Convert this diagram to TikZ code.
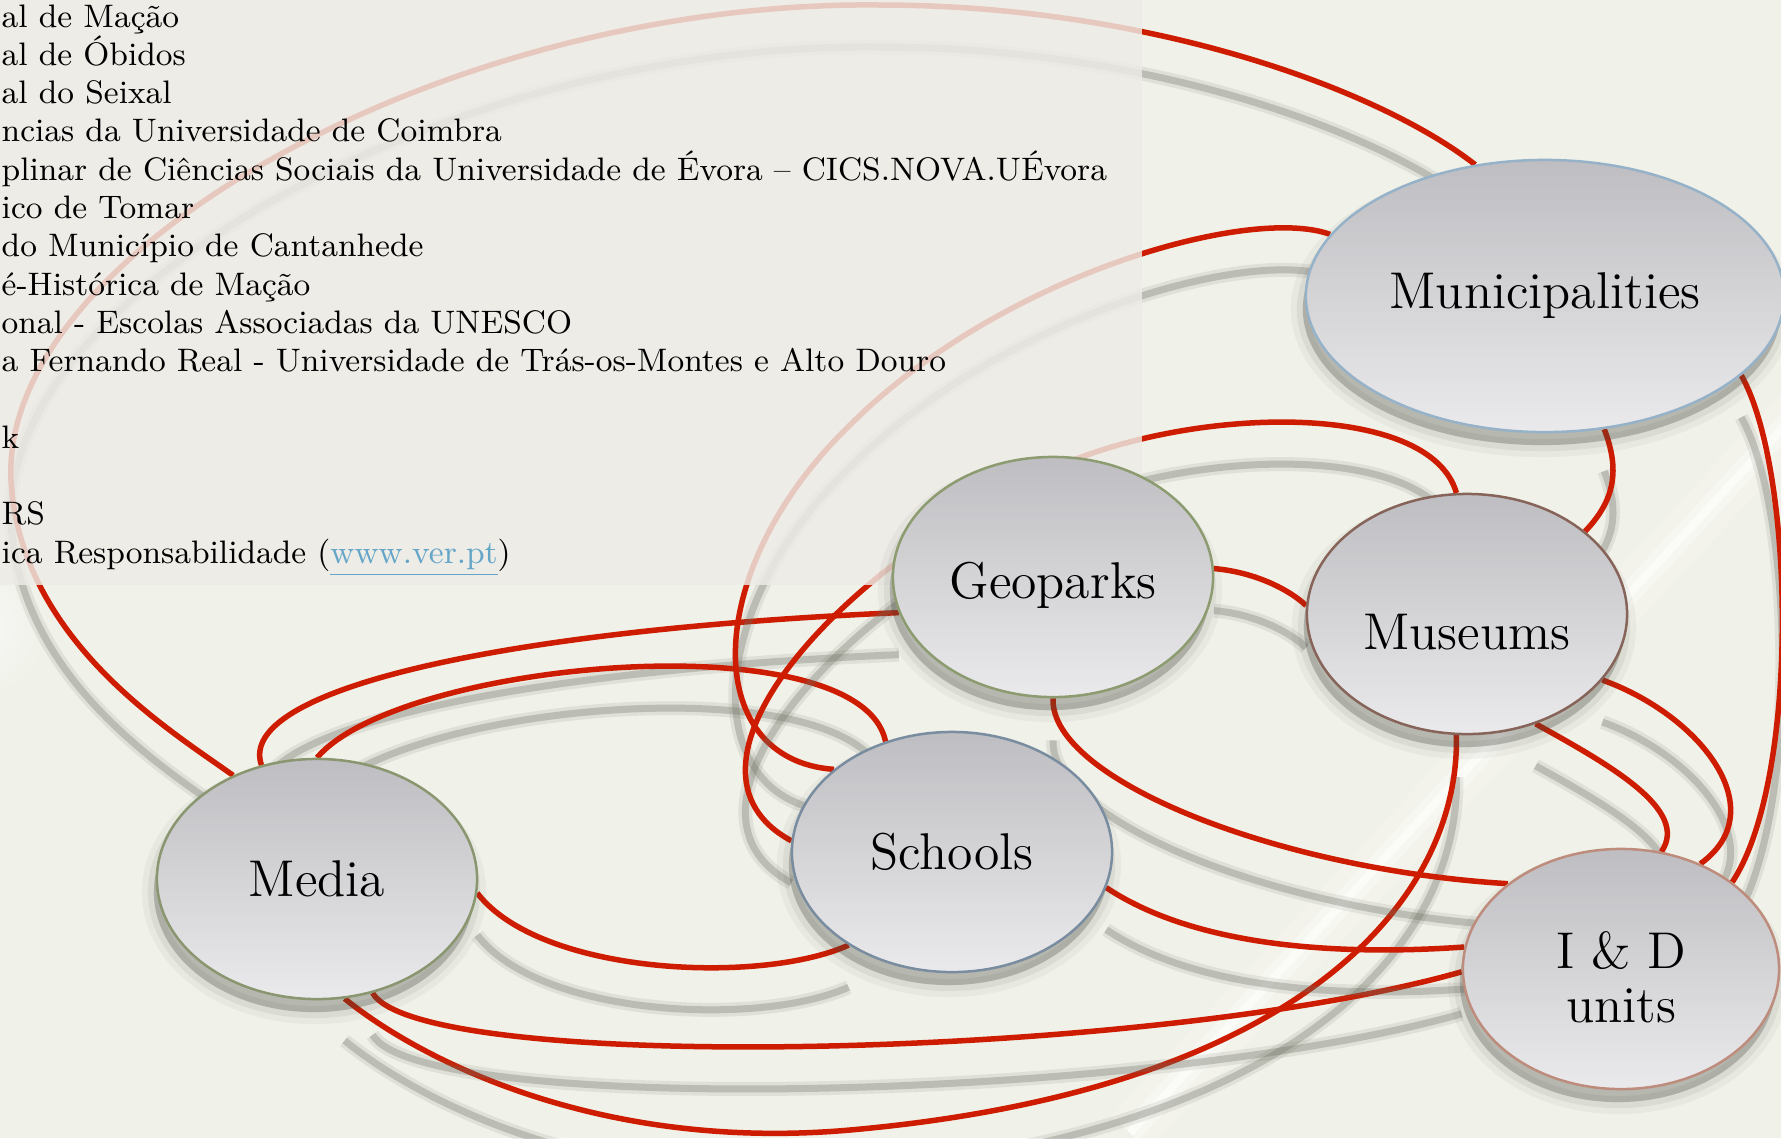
\documentclass[tikz,border=0pt]{standalone}
\usepackage{fontspec}
\usetikzlibrary{shapes.geometric}

% Colours of the slide
\definecolor{slidebg}{RGB}{240,241,232}
\definecolor{panelbg}{RGB}{237,235,230}
\definecolor{linkred}{RGB}{206,28,0}
\definecolor{linkshadow}{RGB}{105,108,96}
\definecolor{linkblue}{RGB}{100,165,200}
\definecolor{bubbletop}{RGB}{190,190,194}
\definecolor{bubblebot}{RGB}{234,234,236}
\definecolor{munib}{RGB}{150,178,200}
\definecolor{geob}{RGB}{140,155,112}
\definecolor{musb}{RGB}{135,100,90}
\definecolor{schb}{RGB}{122,140,160}
\definecolor{mediab}{RGB}{138,150,112}
\definecolor{idub}{RGB}{190,140,125}
\definecolor{bubbleshadow}{RGB}{70,72,64}

\pgfdeclarelayer{back}
\pgfdeclarelayer{links}
\pgfdeclarelayer{panel}
\pgfsetlayers{back,links,panel,main}

\tikzset{
  link/.style={draw=linkred, line width=0.055cm,
    preaction={draw=linkshadow, line width=0.14cm, opacity=0.12,
      transform canvas={yshift=-0.42cm}},
    preaction={draw=linkshadow, line width=0.07cm, opacity=0.3,
      transform canvas={yshift=-0.42cm}}},
  bubble/.style={ellipse, draw=#1, line width=0.025cm,
    top color=bubbletop, bottom color=bubblebot,
    minimum width=3.2cm, minimum height=2.4cm, inner sep=0pt,
    align=center, font=\fontsize{14.7}{15.4}\selectfont,
    preaction={fill=bubbleshadow, draw=bubbleshadow, line width=0.24cm,
      opacity=0.05, transform canvas={shift={(-0.03cm,-0.13cm)}}},
    preaction={fill=bubbleshadow, draw=bubbleshadow, line width=0.12cm,
      opacity=0.08, transform canvas={shift={(-0.03cm,-0.13cm)}}},
    preaction={fill=bubbleshadow, opacity=0.2,
      transform canvas={shift={(-0.03cm,-0.13cm)}}}},
  listtext/.style={inner sep=0pt, anchor=base west,
    font=\fontsize{9.25}{11}\selectfont}
}

\begin{document}
\begin{tikzpicture}[x=0.01cm, y=-0.01cm]

    % Page of the slide, in pixels of the reference
    \useasboundingbox (0,0) rectangle (1781,1138);

    % Background with its light streaks
    \begin{pgfonlayer}{back}
      \fill[slidebg] (0,0) rectangle (1781,1138);
      \foreach \r in {0.2,0.3,...,0.8}
        \fill[white, opacity=0.12] (-25,625) circle (\r cm);
      \draw[white, line width=0.5cm, opacity=0.2] (1830,377) -- (1130,1133);
      \draw[white, line width=0.22cm, opacity=0.35] (1830,377) -- (1130,1133);
      \draw[white, line width=0.08cm, opacity=0.5] (1830,377) -- (1130,1133);
    \end{pgfonlayer}

    % The six partners
    \node[bubble=munib, minimum width=4.78cm, minimum height=2.72cm]
      (muni) at (1545,296) {Municipalities};
    \node[bubble=geob] (geo) at (1053,577) {\rule{0pt}{15pt}Geoparks};
    \node[bubble=musb] (mus) at (1467,614) {\rule{0pt}{20.4pt}Museums};
    \node[bubble=schb] (sch) at (952,852) {Schools};
    \node[bubble=mediab] (media) at (317,879) {Media};
    \node[bubble=idub, minimum width=3.16cm] (idu) at (1621,969)
      {\rule{0pt}{15.3pt}I \& D\\units};

    % Red links between the partners
    \begin{pgfonlayer}{links}
      % Media -> Municipalities, round the top left
      \draw[link] (media.129) .. controls (170,730) and (20,640) .. (11,480)
        .. controls (0,250) and (450,0) .. (880,5)
        .. controls (1150,5) and (1380,90) .. (muni.118);
      % Media -> Geoparks and Media -> Schools (over the top)
      \draw[link] (media.116) .. controls (235,690) and (500,630) .. (geo.193);
      \draw[link] (media.90) .. controls (400,660) and (860,620) .. (sch.121);
      % Municipalities -> Schools
      \draw[link] (muni.164) .. controls (1250,205) and (1000,275) .. (850,425)
        .. controls (700,570) and (700,760) .. (sch.145);
      % Museums -> Schools, behind Geoparks
      \draw[link] (mus.95) .. controls (1430,400) and (1190,405) .. (1050,470)
        .. controls (830,572) and (660,770) .. (sch.176);
      % Geoparks -> Museums
      \draw[link] (geo.3) .. controls (1255,572) and (1290,590) .. (mus.177);
      % Municipalities -> Museums and -> I&D units
      \draw[link] (muni.-66) .. controls (1620,470) and (1615,500) .. (mus.35);
      \draw[link] (muni.-22) .. controls (1795,470) and (1800,780) .. (idu.38);
      % Museums -> I&D units (two loops)
      \draw[link] (mus.-26) .. controls (1700,715) and (1775,810) .. (idu.53);
      \draw[link] (mus.-58) .. controls (1610,765) and (1690,810) .. (idu.71);
      % Museums -> Media, round the bottom
      \draw[link] (mus.-95) .. controls (1460,900) and (1300,1090) .. (850,1130)
        .. controls (600,1152) and (420,1060) .. (media.-77);
      % Media, Schools and Geoparks -> I&D units
      \draw[link] (media.-64) .. controls (420,1075) and (1150,1060) .. (idu.181);
      \draw[link] (sch.-13) .. controls (1200,950) and (1350,955) .. (idu.172);
      \draw[link] (geo.-90) .. controls (1050,780) and (1280,870) .. (idu.143);
      % Media -> Schools, underneath
      \draw[link] (media.-5) .. controls (540,975) and (760,985) .. (sch.222);
    \end{pgfonlayer}

    % Half transparent panel with the list of partners (cut at the left)
    \begin{pgfonlayer}{panel}
      \fill[panelbg, opacity=0.83] (0,0) rectangle (1142,585);
      \foreach \n/\txt in {
          1/{al de Mação},
          2/{al de Óbidos},
          3/{al do Seixal},
          4/{ncias da Universidade de Coimbra},
          5/{plinar de Ciências Sociais da Universidade de Évora – CICS.NOVA.UÉvora},
          6/{ico de Tomar},
          7/{do Município de Cantanhede},
          8/{é-Histórica de Mação},
          9/{onal - Escolas Associadas da UNESCO},
          10/{a Fernando Real - Universidade de Trás-os-Montes e Alto Douro},
          12/{k},
          14/{RS},
          15/{ica Responsabilidade ({\color{linkblue}\underline{www.ver.pt}})}}
        \node[listtext] (line\n) at (1,{27+38.3*(\n-1)}) {\txt};
    \end{pgfonlayer}

\end{tikzpicture}
\end{document}
